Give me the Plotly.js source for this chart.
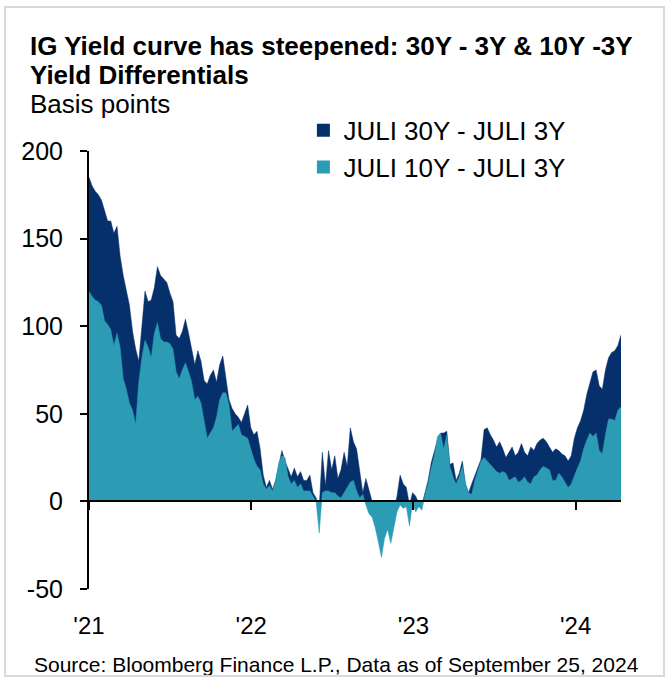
<!DOCTYPE html>
<html>
<head>
<meta charset="utf-8">
<script src="https://cdn.plot.ly/plotly-3.0.1.min.js"></script>
<style>
  body { margin: 0; background: #fff; }
  #wrap { position: relative; width: 670px; height: 681px; }
  #chart { width: 670px; height: 681px; }
  #frame { position: absolute; left: 4px; top: 6px; width: 657px; height: 667px; border: 2px solid #d9d9d9; pointer-events: none; }
</style>
</head>
<body>
<div id="wrap">
  <div id="chart"></div>
  <div id="frame"></div>
</div>
<script>
// Weekly observation dates
const dates = [
"2021-01-01","2021-01-08","2021-01-15","2021-01-22","2021-01-29","2021-02-05","2021-02-12","2021-02-19","2021-02-26","2021-03-05",
"2021-03-12","2021-03-19","2021-03-26","2021-04-02","2021-04-09","2021-04-16","2021-04-23","2021-04-30","2021-05-07","2021-05-14",
"2021-05-21","2021-05-28","2021-06-04","2021-06-11","2021-06-18","2021-06-25","2021-07-02","2021-07-09","2021-07-16","2021-07-23",
"2021-07-30","2021-08-06","2021-08-13","2021-08-20","2021-08-27","2021-09-03","2021-09-10","2021-09-17","2021-09-24","2021-10-01",
"2021-10-08","2021-10-15","2021-10-22","2021-10-29","2021-11-05","2021-11-12","2021-11-19","2021-11-26","2021-12-03","2021-12-10",
"2021-12-17","2021-12-24","2021-12-31",
"2022-01-07","2022-01-14","2022-01-21","2022-01-28","2022-02-04","2022-02-11","2022-02-18","2022-02-25","2022-03-04","2022-03-11",
"2022-03-18","2022-03-25","2022-04-01","2022-04-08","2022-04-15","2022-04-22","2022-04-29","2022-05-06","2022-05-13","2022-05-20",
"2022-05-27","2022-06-03","2022-06-10","2022-06-17","2022-06-24","2022-07-01","2022-07-08","2022-07-15","2022-07-22","2022-07-29",
"2022-08-05","2022-08-12","2022-08-19","2022-08-26","2022-09-02","2022-09-09","2022-09-16","2022-09-23","2022-09-30","2022-10-07",
"2022-10-14","2022-10-21","2022-10-28","2022-11-04","2022-11-11","2022-11-18","2022-11-25","2022-12-02","2022-12-09","2022-12-16",
"2022-12-23","2022-12-30",
"2023-01-06","2023-01-13","2023-01-20","2023-01-27","2023-02-03","2023-02-10","2023-02-17","2023-02-24","2023-03-03","2023-03-10",
"2023-03-17","2023-03-24","2023-03-31","2023-04-07","2023-04-14","2023-04-21","2023-04-28","2023-05-05","2023-05-12","2023-05-19",
"2023-05-26","2023-06-02","2023-06-09","2023-06-16","2023-06-23","2023-06-30","2023-07-07","2023-07-14","2023-07-21","2023-07-28",
"2023-08-04","2023-08-11","2023-08-18","2023-08-25","2023-09-01","2023-09-08","2023-09-15","2023-09-22","2023-09-29","2023-10-06",
"2023-10-13","2023-10-20","2023-10-27","2023-11-03","2023-11-10","2023-11-17","2023-11-24","2023-12-01","2023-12-08","2023-12-15",
"2023-12-22","2023-12-29",
"2024-01-05","2024-01-12","2024-01-19","2024-01-26","2024-02-02","2024-02-09","2024-02-16","2024-02-23","2024-03-01","2024-03-08",
"2024-03-15","2024-03-22","2024-03-29","2024-04-05","2024-04-12"
];

// JULI 30Y - JULI 3Y (bp)
const spread30y3y = [
185,180,177,175,172,166,160,160,153,157,
140,129,120,112,97,87,80,100,120,114,
115,122,134,129,127,125,119,114,95,93,
97,104,96,86,78,86,80,69,67,72,
75,68,78,83,70,58,53,50,48,45,
50,55,42,38,40,30,15,8,12,7,
12,20,29,23,18,14,19,14,17,12,
12,15,5,2,-3,28,9,29,18,26,
13,18,28,20,42,34,30,18,5,13,
6,0,-5,-8,-10,-7,-5,-8,-5,3,
15,10,8,-2,5,3,-1,-2,5,12,
22,28,35,39,39,40,21,22,12,16,
23,10,5,10,15,20,24,41,42,38,
35,31,34,30,25,28,31,26,28,33,
28,26,31,29,33,35,36,34,31,28,
30,29,27,26,23,26,36,42,46,52,
61,67,74,75,66,64,75,82,85,86,
89,95
];

// JULI 10Y - JULI 3Y (bp)
const spread10y3y = [
120,117,115,114,112,103,101,98,89,96,
88,70,64,56,52,44,68,82,92,88,
82,96,102,93,91,91,90,87,74,70,
75,79,74,68,58,60,56,46,36,39,
42,48,58,62,62,55,40,42,44,38,
37,36,30,24,20,18,10,7,9,6,
12,22,26,25,14,10,12,8,10,6,
6,6,3,0,-18,5,6,6,5,5,
3,2,5,8,11,12,6,2,4,-2,
-7,-9,-15,-23,-32,-21,-16,-24,-15,-6,
-2,-4,-3,-14,-1,-6,-3,-5,4,10,
19,26,37,39,30,38,20,14,10,14,
20,10,5,4,12,18,23,25,23,21,
19,17,16,17,16,12,13,14,11,12,
14,11,10,14,15,18,20,19,18,12,
12,16,14,11,8,10,15,19,23,30,
35,39,37,39,29,27,38,47,47,46,
52,54
];

const seriesNames = ["JULI 30Y - JULI 3Y", "JULI 10Y - JULI 3Y"];
const xTickVals = ["2021-01-01", "2022-01-01", "2023-01-01", "2024-01-01"];
const xTickText = ["'21", "'22", "'23", "'24"];
const yTickVals = [-50, 0, 50, 100, 150, 200];
const yTickText = ["-50", "0", "50", "100", "150", "200"];
const titleLine1 = "IG Yield curve has steepened: 30Y - 3Y & 10Y -3Y";
const titleLine2 = "Yield Differentials";
const subtitle = "Basis points";
const sourceText = "Source: Bloomberg Finance L.P., Data as of September 25, 2024";

const NAVY = "#06306b";
const TEAL = "#2c9cb5";
const FONT = "Arial, 'Liberation Sans', sans-serif";

const traces = [
  { x: dates, y: spread30y3y, type: "scatter", mode: "lines", fill: "tozeroy",
    fillcolor: NAVY, line: { color: NAVY, width: 0.5 }, showlegend: false, hoverinfo: "skip" },
  { x: dates, y: spread10y3y, type: "scatter", mode: "lines", fill: "tozeroy",
    fillcolor: TEAL, line: { color: TEAL, width: 0.5 }, showlegend: false, hoverinfo: "skip" },
  { x: [null], y: [null], type: "scatter", mode: "markers", name: seriesNames[0],
    marker: { symbol: "square", size: 13, color: NAVY } },
  { x: [null], y: [null], type: "scatter", mode: "markers", name: seriesNames[1],
    marker: { symbol: "square", size: 13, color: TEAL } }
];

const layout = {
  width: 670, height: 681,
  margin: { l: 89, r: 49, t: 151, b: 92, pad: 0 },
  paper_bgcolor: "#ffffff", plot_bgcolor: "#ffffff",
  font: { family: FONT, color: "#000" },
  showlegend: true,
  legend: { x: 0.403, xanchor: "left", y: 1.101, yanchor: "top",
            font: { family: FONT, size: 26, color: "#000" }, bgcolor: "rgba(0,0,0,0)",
            borderwidth: 0, tracegroupgap: 0 },
  xaxis: {
    type: "date", range: ["2021-01-01", "2024-04-12"],
    anchor: "free", position: 0.2,
    showline: true, linecolor: "#000", linewidth: 2,
    ticks: "outside", ticklen: 8, tickwidth: 2, tickcolor: "#000",
    tickmode: "array", tickvals: xTickVals, ticktext: xTickText,
    tickfont: { family: FONT, size: 24, color: "#000" },
    ticklabelstandoff: 95,
    showgrid: false, zeroline: false, fixedrange: true
  },
  yaxis: {
    range: [-50, 200], tickmode: "array", tickvals: yTickVals, ticktext: yTickText,
    showline: true, linecolor: "#000", linewidth: 2,
    ticks: "outside", ticklen: 7, tickwidth: 2, tickcolor: "#000",
    tickfont: { family: FONT, size: 25, color: "#000" },
    ticklabelstandoff: 12,
    showgrid: false, zeroline: false, fixedrange: true
  },
  annotations: [
    { text: "<b>" + titleLine1 + "</b>", xref: "paper", yref: "paper", x: -0.1147, y: 1.2397,
      xanchor: "left", yanchor: "middle", showarrow: false, font: { family: FONT, size: 26, color: "#000" } },
    { text: "<b>" + titleLine2 + "</b>", xref: "paper", yref: "paper", x: -0.1147, y: 1.1735,
      xanchor: "left", yanchor: "middle", showarrow: false, font: { family: FONT, size: 26, color: "#000" } },
    { text: subtitle, xref: "paper", yref: "paper", x: -0.1147, y: 1.1073,
      xanchor: "left", yanchor: "middle", showarrow: false, font: { family: FONT, size: 26, color: "#000" } },
    { text: sourceText, xref: "paper", yref: "paper", x: -0.1071, y: -0.1735,
      xanchor: "left", yanchor: "middle", showarrow: false, font: { family: FONT, size: 21, color: "#000" } }
  ]
};

Plotly.newPlot("chart", traces, layout, { displayModeBar: false, staticPlot: true });
</script>
</body>
</html>
